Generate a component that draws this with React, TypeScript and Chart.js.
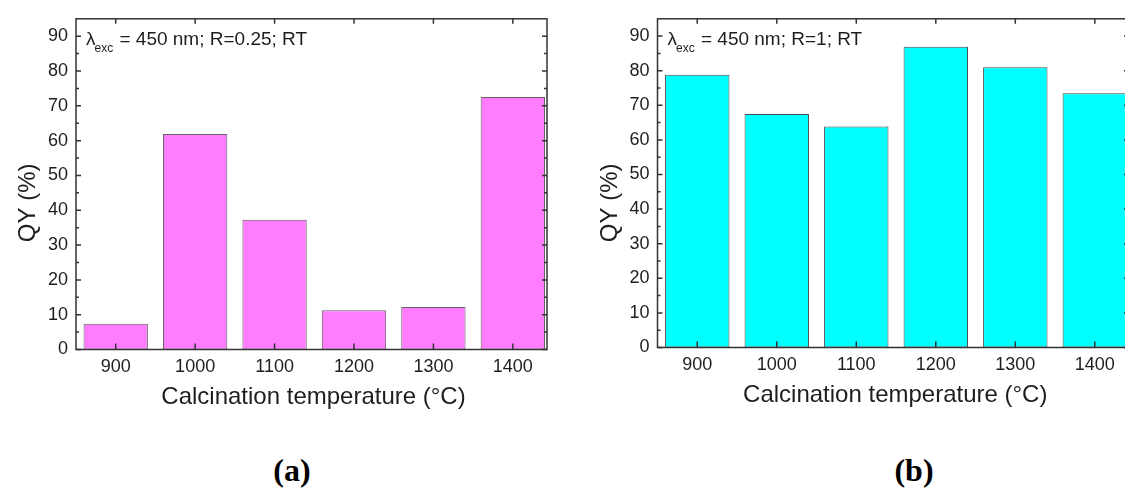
import React, { useEffect, useRef } from "react";
import { Chart, registerables } from "chart.js";

Chart.register(...registerables);

// ---- data ----
const categories = [900, 1000, 1100, 1200, 1300, 1400];
const qyR025 = [7.4, 61.9, 37.3, 11.3, 12.2, 72.5];
const qyR1 = [78.8, 67.5, 63.9, 86.9, 81.0, 73.5];
const yTickValues = [0, 10, 20, 30, 40, 50, 60, 70, 80, 90];
const yMinorValues = [5, 15, 25, 35, 45, 55, 65, 75, 85];
const xTitle = "Calcination temperature (°C)";
const yTitle = "QY (%)";
const noteA = " = 450 nm; R=0.25; RT";
const noteB = " = 450 nm; R=1; RT";

const SANS = '"Liberation Sans", Arial, Helvetica, sans-serif';
const TEXT = "#1e1e1e";

type Panel = {
  values: number[];
  fill: string;
  border: string;
  note: string;
  canvasW: number;
  canvasH: number;
  area: { left: number; top: number; right: number; bottom: number };
};

const panelA: Panel = {
  values: qyR025,
  fill: "#FF7CFF",
  border: "#626262",
  note: noteA,
  canvasW: 560,
  canvasH: 420,
  area: { left: 76, top: 14, right: 547, bottom: 349.5 },
};

const panelB: Panel = {
  values: qyR1,
  fill: "#00FFFF",
  border: "#4a4a4a",
  note: noteB,
  canvasW: 560,
  canvasH: 420,
  area: { left: 77.5, top: 11, right: 549, bottom: 347.5 },
};

const framePlugin = {
  id: "originFrame",
  afterDatasetsDraw(chart: any, _args: any, opts: any) {
    const { ctx, chartArea: a, scales } = chart;
    const x = scales.x;
    const y = scales.y;
    ctx.save();
    ctx.strokeStyle = "#333";
    ctx.lineWidth = 1.5;
    ctx.strokeRect(a.left, a.top, a.right - a.left, a.bottom - a.top);
    ctx.beginPath();
    for (const v of yTickValues) {
      const p = y.getPixelForValue(v);
      ctx.moveTo(a.left, p);
      ctx.lineTo(a.left + 5, p);
      ctx.moveTo(a.right, p);
      ctx.lineTo(a.right - 5, p);
    }
    for (const v of yMinorValues) {
      const p = y.getPixelForValue(v);
      ctx.moveTo(a.left, p);
      ctx.lineTo(a.left + 3, p);
      ctx.moveTo(a.right, p);
      ctx.lineTo(a.right - 3, p);
    }
    for (const v of categories) {
      const p = x.getPixelForValue(v);
      ctx.moveTo(p, a.bottom);
      ctx.lineTo(p, a.bottom - 6);
      ctx.moveTo(p, a.top);
      ctx.lineTo(p, a.top + 5);
    }
    ctx.stroke();

    // annotation
    ctx.fillStyle = TEXT;
    ctx.textBaseline = "alphabetic";
    ctx.textAlign = "left";
    let tx = a.left + 10;
    const by = a.top + 26.5;
    ctx.font = `19px ${SANS}`;
    ctx.fillText("λ", tx, by);
    tx += ctx.measureText("λ").width - 1;
    ctx.font = `12px ${SANS}`;
    ctx.fillText("exc", tx, by + 6.5);
    tx += ctx.measureText("exc").width + 1;
    ctx.font = `19px ${SANS}`;
    ctx.fillText(opts.note, tx, by);

    // axis titles
    ctx.font = `24px ${SANS}`;
    ctx.textAlign = "center";
    ctx.fillText(xTitle, (a.left + a.right) / 2 + 2, a.bottom + 54);
    ctx.save();
    ctx.translate(a.left - 41, a.top + 184);
    ctx.rotate(-Math.PI / 2);
    ctx.fillText(yTitle, 0, 0);
    ctx.restore();
    ctx.restore();
  },
};

function makeChart(canvas: HTMLCanvasElement, p: Panel) {
  return new Chart(canvas, {
    type: "bar",
    data: {
      datasets: [
        {
          data: categories.map((c, i) => ({ x: c, y: p.values[i] })),
          backgroundColor: p.fill,
          borderColor: p.border,
          borderWidth: 1,
          borderSkipped: false,
          barPercentage: 0.81,
          categoryPercentage: 1,
        },
      ],
    },
    options: {
      responsive: false,
      animation: false,
      devicePixelRatio: 1,
      layout: {
        padding: {
          left: 0,
          top: p.area.top,
          right: p.canvasW - p.area.right,
          bottom: 0,
        },
      },
      plugins: {
        legend: { display: false },
        tooltip: { enabled: false },
        title: { display: false },
        originFrame: { note: p.note },
      } as any,
      scales: {
        x: {
          type: "linear",
          offset: false,
          min: 850,
          max: 1443,
          grid: { display: false, drawTicks: false, offset: false },
          border: { display: false },
          afterBuildTicks: (s: any) => {
            s.ticks = categories.map((v) => ({ value: v }));
          },
          afterFit: (s: any) => {
            s.height = p.canvasH - p.area.bottom;
          },
          ticks: {
            padding: 7,
            color: TEXT,
            font: { family: SANS, size: 18 },
            callback: (v: any) => String(v),
            maxRotation: 0,
            autoSkip: false,
          },
        },
        y: {
          type: "linear",
          min: 0,
          max: 95,
          grid: { display: false, drawTicks: false },
          border: { display: false },
          afterBuildTicks: (s: any) => {
            s.ticks = yTickValues.map((v) => ({ value: v }));
          },
          afterFit: (s: any) => {
            s.width = p.area.left;
          },
          ticks: {
            padding: 8,
            color: TEXT,
            font: { family: SANS, size: 18 },
            callback: (v: any) => String(v),
          },
        },
      },
    },
    plugins: [framePlugin],
  } as any);
}

export default function App() {
  const refA = useRef<HTMLCanvasElement>(null);
  const refB = useRef<HTMLCanvasElement>(null);

  useEffect(() => {
    const ca = makeChart(refA.current!, panelA);
    const cb = makeChart(refB.current!, panelB);
    return () => {
      ca.destroy();
      cb.destroy();
    };
  }, []);

  const labelStyle: React.CSSProperties = {
    position: "absolute",
    top: 452,
    width: 80,
    textAlign: "center",
    fontFamily: '"Liberation Serif", "Times New Roman", serif',
    fontWeight: "bold",
    fontSize: 32,
    lineHeight: "36px",
    color: "#000",
  };

  return (
    <div
      style={{
        position: "fixed",
        left: 0,
        top: 0,
        width: 1125,
        height: 490,
        overflow: "hidden",
        background: "#fff",
      }}
    >
      <div style={{ position: "absolute", left: 0, top: 0, width: 560, height: 420 }}>
        <canvas ref={refA} width={560} height={420} style={{ display: "block" }} />
      </div>
      <div style={{ position: "absolute", left: 580, top: 0, width: 560, height: 420 }}>
        <canvas ref={refB} width={560} height={420} style={{ display: "block" }} />
      </div>
      <div style={{ ...labelStyle, left: 292 - 40 }}>(a)</div>
      <div style={{ ...labelStyle, left: 914 - 40 }}>(b)</div>
    </div>
  );
}
